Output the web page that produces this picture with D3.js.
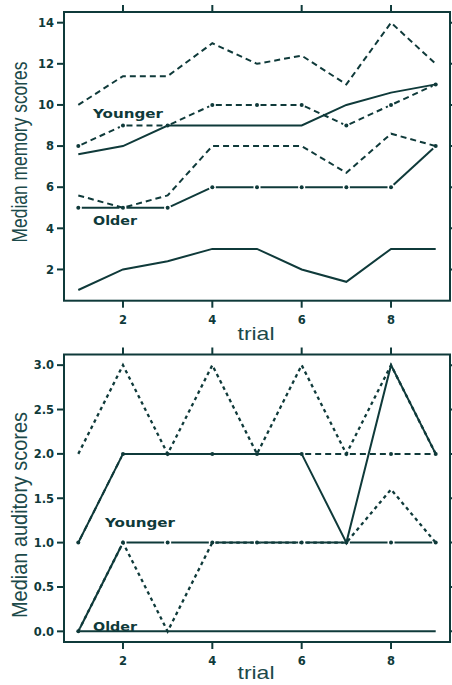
<!DOCTYPE html>
<html><head><meta charset="utf-8">
<script src="https://cdn.jsdelivr.net/npm/d3@7"></script>
<style>body{margin:0;background:#fff}svg{display:block}</style>
</head><body>
<svg id="c" width="452" height="685"></svg>
<script>
const trials = [1, 2, 3, 4, 5, 6, 7, 8, 9];
const memYoungUpper  = [10, 11.4, 11.4, 13, 12, 12.4, 11, 14, 12];
const memYoungMedian = [7.6, 8, 9, 9, 9, 9, 10, 10.6, 11];
const memYoungLower  = [8, 9, 9, 10, 10, 10, 9, 10, 11];
const memOldUpper    = [5.6, 5, 5.6, 8, 8, 8, 6.7, 8.6, 8];
const memOldMedian   = [5, 5, 5, 6, 6, 6, 6, 6, 8];
const memOldLower    = [1, 2, 2.4, 3, 3, 2, 1.4, 3, 3];
const audYoungUpper  = [2, 3, 2, 3, 2, 3, 2, 3, 2];
const audYoungMedian = [1, 2, 2, 2, 2, 2, 1, 3, 2];
const audYoungLower  = [1, 2, 2, 2, 2, 2, 2, 2, 2];
const audOldUpper    = [0, 1, 0, 1, 1, 1, 1, 1.6, 1];
const audOldMedian   = [0, 1, 1, 1, 1, 1, 1, 1, 1];
const audOldLower    = [0, 0, 0, 0, 0, 0, 0, 0, 0];
const xTicks = [2, 4, 6, 8];
const memTicks = [2, 4, 6, 8, 10, 12, 14];
const memTickLabels = ["2", "4", "6", "8", "10", "12", "14"];
const audTicks = [0, 0.5, 1, 1.5, 2, 2.5, 3];
const audTickLabels = ["0.0", "0.5", "1.0", "1.5", "2.0", "2.5", "3.0"];

const INK = "#0f3a3a";
const LABEL = "#1c4a4a";
const svg = d3.select("#c");

const STYLES = {
  solid:  {dash: null, b: false},
  dashed: {dash: "6,4", b: false},
  dotted: {dash: "3.5,3.5", b: false},
  dashedB:{dash: "6,4", b: true},
  solidB: {dash: null, b: true}
};

function panel(cfg) {
  const {top, bottom, yDomain, yTicks, yLabels, ylab, ylabLen, ylabY, series, groupLabels, xLabY} = cfg;
  const x = d3.scaleLinear().domain([0.68, 9.32]).range([64, 450]);
  const y = d3.scaleLinear().domain(yDomain).range([bottom, top]);
  const g = svg.append("g");
  g.append("rect").attr("x", 64).attr("y", top).attr("width", 386).attr("height", bottom - top)
    .attr("fill", "none").attr("stroke", INK).attr("stroke-width", 2);
  const TL = 7;
  xTicks.forEach(t => {
    g.append("line").attr("x1", x(t)).attr("x2", x(t)).attr("y1", bottom).attr("y2", bottom + TL).attr("stroke", INK).attr("stroke-width", 2);
    g.append("line").attr("x1", x(t)).attr("x2", x(t)).attr("y1", top).attr("y2", top - TL).attr("stroke", INK).attr("stroke-width", 2);
    g.append("text").attr("x", x(t)).attr("y", bottom + 23).attr("text-anchor", "middle")
      .attr("font-family", "DejaVu Sans").attr("font-weight", "bold").attr("font-size", 11.5).attr("fill", INK).text(t);
  });
  yTicks.forEach((t, i) => {
    g.append("line").attr("x1", 64).attr("x2", 64 - TL).attr("y1", y(t)).attr("y2", y(t)).attr("stroke", INK).attr("stroke-width", 2);
    g.append("line").attr("x1", 450).attr("x2", 450 + TL).attr("y1", y(t)).attr("y2", y(t)).attr("stroke", INK).attr("stroke-width", 2);
    g.append("text").attr("x", 54).attr("y", y(t) + 4.3).attr("text-anchor", "end")
      .attr("font-family", "DejaVu Sans").attr("font-weight", "bold").attr("font-size", 11.5).attr("fill", INK).text(yLabels[i]);
  });
  g.append("text").attr("transform", `translate(27,${ylabY}) rotate(-90)`).attr("text-anchor", "middle")
    .attr("font-family", "Liberation Sans Narrow, Liberation Sans, Arial, sans-serif").attr("font-size", 22)
    .attr("textLength", ylabLen).attr("lengthAdjust", "spacingAndGlyphs").attr("fill", LABEL).text(ylab);
  g.append("text").attr("x", 256).attr("y", xLabY).attr("text-anchor", "middle")
    .attr("font-family", "Liberation Sans, Arial, sans-serif").attr("font-size", 19)
    .attr("textLength", 37).attr("lengthAdjust", "spacingAndGlyphs").attr("fill", LABEL).text("trial");
  const line = d3.line().x((d, i) => x(trials[i])).y(d => y(d));
  series.forEach(s => {
    const st = STYLES[s.style];
    if (!st.b) {
      g.append("path").attr("d", line(s.values)).attr("fill", "none").attr("stroke", INK)
        .attr("stroke-width", s.style === "dotted" ? 2.3 : 2).attr("stroke-dasharray", st.dash);
    } else {
      const pts = s.values.map((v, i) => [x(trials[i]), y(v)]);
      const gap = 3.5;
      for (let i = 0; i < pts.length - 1; i++) {
        const [x1, y1] = pts[i], [x2, y2] = pts[i + 1];
        const len = Math.hypot(x2 - x1, y2 - y1);
        const ux = (x2 - x1) / len, uy = (y2 - y1) / len;
        g.append("line").attr("x1", x1 + ux * gap).attr("y1", y1 + uy * gap)
          .attr("x2", x2 - ux * gap).attr("y2", y2 - uy * gap)
          .attr("stroke", INK).attr("stroke-width", 2).attr("stroke-dasharray", st.dash);
      }
      pts.forEach(p => g.append("circle").attr("cx", p[0]).attr("cy", p[1]).attr("r", 2).attr("fill", INK));
    }
  });
  groupLabels.forEach(l => {
    g.append("text").attr("x", l.x).attr("y", l.y).attr("font-family", "DejaVu Sans").attr("font-weight", "bold")
      .attr("font-size", 13).attr("textLength", l.w).attr("lengthAdjust", "spacingAndGlyphs").attr("fill", INK).text(l.text);
  });
}

panel({
  top: 12, bottom: 300.7, yDomain: [0.48, 14.52], yTicks: memTicks, yLabels: memTickLabels,
  ylab: "Median memory scores", ylabLen: 181, ylabY: 152, xLabY: 340,
  series: [
    {values: memYoungUpper, style: "dashed"},
    {values: memYoungMedian, style: "solid"},
    {values: memYoungLower, style: "dashedB"},
    {values: memOldUpper, style: "dashed"},
    {values: memOldMedian, style: "solidB"},
    {values: memOldLower, style: "solid"}
  ],
  groupLabels: [{text: "Younger", x: 93, y: 117.5, w: 70}, {text: "Older", x: 93, y: 225, w: 44}]
});
panel({
  top: 354.5, bottom: 642, yDomain: [-0.12, 3.12], yTicks: audTicks, yLabels: audTickLabels,
  ylab: "Median auditory scores", ylabLen: 206, ylabY: 515, xLabY: 679,
  series: [
    {values: audYoungUpper, style: "dotted"},
    {values: audYoungMedian, style: "solid"},
    {values: audYoungLower, style: "dashedB"},
    {values: audOldUpper, style: "dotted"},
    {values: audOldMedian, style: "solidB"},
    {values: audOldLower, style: "solid"}
  ],
  groupLabels: [{text: "Younger", x: 105, y: 527, w: 70}, {text: "Older", x: 93, y: 631, w: 44}]
});
</script>
</body></html>
